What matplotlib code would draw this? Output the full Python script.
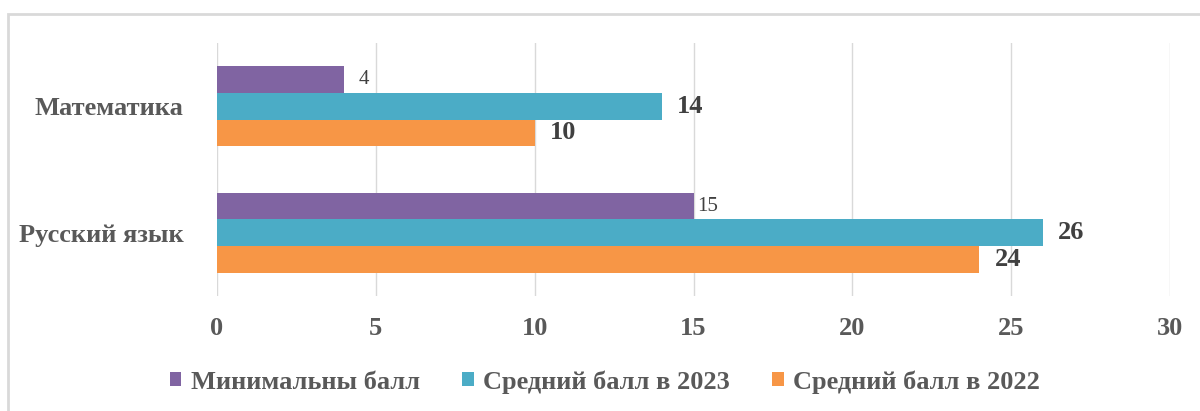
from matplotlib import pyplot as plt
from matplotlib.patches import Rectangle
import numpy as np

plt.rcParams['font.family'] = ['Liberation Serif', 'DejaVu Serif']

subjects = ['Русский язык', 'Математика']
series_names = ['Минимальны балл', 'Средний балл в 2023', 'Средний балл в 2022']
min_score = [15, 4]
avg_2023 = [26, 14]
avg_2022 = [24, 10]
colors = ['#8064A2', '#4BACC6', '#F79646']
xticks = [0, 5, 10, 15, 20, 25, 30]

fig = plt.figure(figsize=(12, 4.11), dpi=100)
ax = fig.add_axes([217 / 1200, 1 - 296 / 411, (1170 - 217) / 1200, (296 - 43) / 411])

y = np.arange(len(subjects))
h = 0.21
offsets = [h, 0, -h]
data = [min_score, avg_2023, avg_2022]

bars = []
for vals, off, col, name in zip(data, offsets, colors, series_names):
    b = ax.barh(y + off, vals, height=h, color=col, label=name, zorder=3)
    bars.append(b)

# data labels: minimal score in regular font, averages bold
min_pads = [4, 15]
for yy, v, p in zip(y + offsets[0], min_score, min_pads):
    ax.annotate(str(v), (v, yy), xytext=(p * 0.72, 0), textcoords='offset points',
                va='center', ha='left', fontsize=15, color='#404040')
ax.bar_label(bars[1], padding=11, fontsize=19, fontweight='bold', color='#404040')
ax.bar_label(bars[2], padding=11, fontsize=19, fontweight='bold', color='#404040')

ax.set_xlim(0, 30)
ax.set_ylim(-0.5, 1.5)
ax.set_xticks(xticks)
ax.set_yticks(y)
ax.set_yticklabels(subjects)
ax.tick_params(axis='x', length=0, pad=15, labelsize=19, labelcolor='#595959')
ax.tick_params(axis='y', length=0, pad=24, labelsize=19, labelcolor='#595959')
for lbl in ax.get_xticklabels() + ax.get_yticklabels():
    lbl.set_fontweight('bold')
ax.grid(axis='x', color='#d9d9d9', linewidth=1, zorder=0)
for s in ax.spines.values():
    s.set_visible(False)

leg = fig.legend(handles=bars, labels=series_names, loc='center',
                 bbox_to_anchor=(0.504, 1 - 382 / 411), ncol=3, frameon=False,
                 prop={'size': 19, 'weight': 'bold'}, handlelength=0.45,
                 handleheight=0.45, handletextpad=0.35, columnspacing=1.6)
for t in leg.get_texts():
    t.set_color('#595959')

# chart border
fig.patches.append(Rectangle((8 / 1200, -0.05), 1.1, 1 - 14 / 411 + 0.05,
                             transform=fig.transFigure, fill=False,
                             edgecolor='#d9d9d9', linewidth=2))

fig.savefig('out.png', dpi=100)
